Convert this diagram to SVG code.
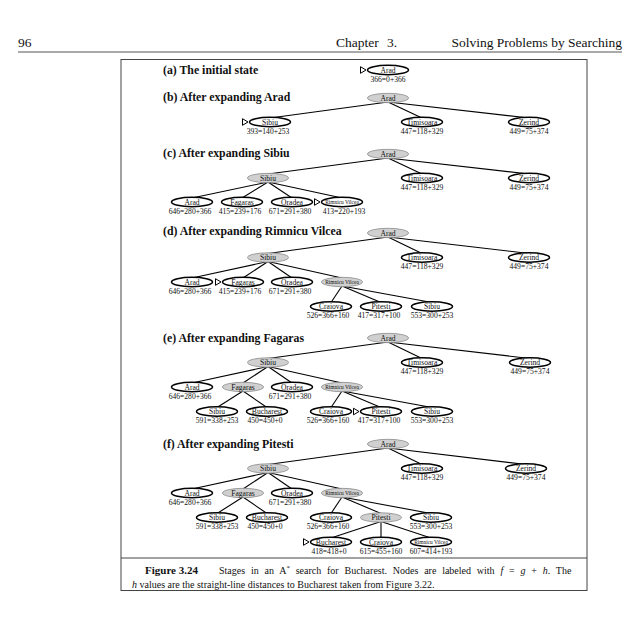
<svg xmlns="http://www.w3.org/2000/svg" xmlns:xlink="http://www.w3.org/1999/xlink" width="640" height="640" viewBox="0 0 640 640">
<style>
.w{fill:#fff;stroke:#000;stroke-width:1.5}
.g{fill:#d0d0d0;stroke:#8a8a8a;stroke-width:0.8}
.nl{font-family:"Liberation Serif",serif;font-size:7.6px;text-anchor:middle;fill:#111}
.rv{font-size:5.4px}
.fl{font-family:"Liberation Serif",serif;font-size:7.6px;text-anchor:middle;fill:#111}
.t{font-family:"Liberation Serif",serif;font-size:11.8px;font-weight:bold;fill:#111}
.e line{stroke:#000;stroke-width:1.1}
.tri{fill:#fff;stroke:#000;stroke-width:1}
.hd{font-family:"Liberation Serif",serif;font-size:13.5px;fill:#111}
.cap{font-family:"Liberation Serif",serif;font-size:10px;fill:#111}
</style>
<defs>
<path id="tri" class="tri" d="M-5.5,-3.3 L0,0 L-5.5,3.3 Z"/>
</defs>
<rect width="640" height="640" fill="#fff"/>
<g id="header">
<text class="hd" x="18" y="47">96</text>
<text class="hd" x="336" y="47">Chapter</text>
<text class="hd" x="387" y="47">3.</text>
<text class="hd" x="622" y="47" text-anchor="end">Solving Problems by Searching</text>
<line x1="18" y1="52" x2="622" y2="52" stroke="#555" stroke-width="1"/>
</g>
<g id="frame" fill="none" stroke="#444" stroke-width="1">
<rect x="121" y="59.5" width="466" height="531"/>
<line x1="121" y1="558" x2="587" y2="558"/>
</g>
<g id="titles">
<text class="t" x="163" y="74">(a) The initial state</text>
<text class="t" x="163" y="101">(b) After expanding Arad</text>
<text class="t" x="163" y="157">(c) After expanding Sibiu</text>
<text class="t" x="163" y="234.5">(d) After expanding Rimnicu Vilcea</text>
<text class="t" x="163" y="341.5">(e) After expanding Fagaras</text>
<text class="t" x="163" y="447.5">(f) After expanding Pitesti</text>
</g>
<g id="connectors" class="e">
<line x1="388" y1="102" x2="270" y2="118"/>
<line x1="388" y1="102" x2="422" y2="118"/>
<line x1="388" y1="102" x2="529" y2="118"/>
<line x1="388" y1="158" x2="268" y2="174"/>
<line x1="388" y1="158" x2="422" y2="174"/>
<line x1="388" y1="158" x2="529" y2="174"/>
<line x1="268" y1="182" x2="192" y2="198"/>
<line x1="268" y1="182" x2="242" y2="198"/>
<line x1="268" y1="182" x2="292" y2="198"/>
<line x1="268" y1="182" x2="342" y2="198"/>
<line x1="388" y1="237" x2="268" y2="253.5"/>
<line x1="388" y1="237" x2="422" y2="253.5"/>
<line x1="388" y1="237" x2="529" y2="253.5"/>
<line x1="268" y1="261.5" x2="192" y2="278"/>
<line x1="268" y1="261.5" x2="243" y2="278"/>
<line x1="268" y1="261.5" x2="292" y2="278"/>
<line x1="268" y1="261.5" x2="342" y2="278"/>
<line x1="342" y1="286" x2="331" y2="302.5"/>
<line x1="342" y1="286" x2="381" y2="302.5"/>
<line x1="342" y1="286" x2="432" y2="302.5"/>
<line x1="388" y1="342" x2="268" y2="358.5"/>
<line x1="388" y1="342" x2="422" y2="358.5"/>
<line x1="388" y1="342" x2="530" y2="358.5"/>
<line x1="268" y1="366.5" x2="192" y2="383"/>
<line x1="268" y1="366.5" x2="243" y2="383"/>
<line x1="268" y1="366.5" x2="292" y2="383"/>
<line x1="268" y1="366.5" x2="342" y2="383"/>
<line x1="243" y1="391" x2="217" y2="407.5"/>
<line x1="243" y1="391" x2="267" y2="407.5"/>
<line x1="342" y1="391" x2="331" y2="407.5"/>
<line x1="342" y1="391" x2="381" y2="407.5"/>
<line x1="342" y1="391" x2="432" y2="407.5"/>
<line x1="388" y1="448" x2="268" y2="464.5"/>
<line x1="388" y1="448" x2="422" y2="464.5"/>
<line x1="388" y1="448" x2="526" y2="464.5"/>
<line x1="268" y1="472.5" x2="192" y2="489"/>
<line x1="268" y1="472.5" x2="243" y2="489"/>
<line x1="268" y1="472.5" x2="292" y2="489"/>
<line x1="268" y1="472.5" x2="342" y2="489"/>
<line x1="243" y1="497" x2="217" y2="513.5"/>
<line x1="243" y1="497" x2="267" y2="513.5"/>
<line x1="342" y1="497" x2="331" y2="513.5"/>
<line x1="342" y1="497" x2="381" y2="513.5"/>
<line x1="342" y1="497" x2="431" y2="513.5"/>
<line x1="381" y1="521.5" x2="331" y2="538"/>
<line x1="381" y1="521.5" x2="381" y2="538"/>
<line x1="381" y1="521.5" x2="431" y2="538"/>
</g>
<!-- (a) -->
<g id="a-arad"><use xlink:href="#tri" x="366" y="70"/><ellipse class="w" cx="388" cy="70" rx="20.5" ry="4.7"/><text class="nl" x="388" y="72.6">Arad</text><text class="fl" x="388" y="81.5">366=0+366</text></g>
<!-- (b) -->
<g id="b-arad"><ellipse class="g" cx="388" cy="98" rx="20.5" ry="4.7"/><text class="nl" x="388" y="100.6">Arad</text></g>
<g id="b-sibiu"><use xlink:href="#tri" x="248" y="122"/><ellipse class="w" cx="270" cy="122" rx="20.5" ry="4.7"/><text class="nl" x="270" y="124.6">Sibiu</text><text class="fl" x="268" y="133.5">393=140+253</text></g>
<g id="b-timisoara"><ellipse class="w" cx="422" cy="122" rx="20.5" ry="4.7"/><text class="nl" x="422" y="124.6">Timisoara</text><text class="fl" x="422" y="133.5">447=118+329</text></g>
<g id="b-zerind"><ellipse class="w" cx="529" cy="122" rx="20.5" ry="4.7"/><text class="nl" x="529" y="124.6">Zerind</text><text class="fl" x="529" y="133.5">449=75+374</text></g>
<!-- (c) -->
<g id="c-arad"><ellipse class="g" cx="388" cy="154" rx="20.5" ry="4.7"/><text class="nl" x="388" y="156.6">Arad</text></g>
<g id="c-sibiu"><ellipse class="g" cx="268" cy="178" rx="20.5" ry="4.7"/><text class="nl" x="268" y="180.6">Sibiu</text></g>
<g id="c-timisoara"><ellipse class="w" cx="422" cy="178" rx="20.5" ry="4.7"/><text class="nl" x="422" y="180.6">Timisoara</text><text class="fl" x="422" y="189.5">447=118+329</text></g>
<g id="c-zerind"><ellipse class="w" cx="529" cy="178" rx="20.5" ry="4.7"/><text class="nl" x="529" y="180.6">Zerind</text><text class="fl" x="529" y="189.5">449=75+374</text></g>
<g id="c-arad2"><ellipse class="w" cx="192" cy="202" rx="20.5" ry="4.7"/><text class="nl" x="192" y="204.6">Arad</text><text class="fl" x="190" y="213.5">646=280+366</text></g>
<g id="c-fagaras"><ellipse class="w" cx="242" cy="202" rx="20.5" ry="4.7"/><text class="nl" x="242" y="204.6">Fagaras</text><text class="fl" x="240" y="213.5">415=239+176</text></g>
<g id="c-oradea"><ellipse class="w" cx="292" cy="202" rx="20.5" ry="4.7"/><text class="nl" x="292" y="204.6">Oradea</text><text class="fl" x="290" y="213.5">671=291+380</text></g>
<g id="c-rimnicu"><use xlink:href="#tri" x="320" y="202"/><ellipse class="w" cx="342" cy="202" rx="20.5" ry="4.7"/><text class="nl rv" x="342" y="203.9">Rimnicu Vilcea</text><text class="fl" x="344" y="213.5">413=220+193</text></g>
<!-- (d) -->
<g id="d-arad"><ellipse class="g" cx="388" cy="233" rx="20.5" ry="4.7"/><text class="nl" x="388" y="235.6">Arad</text></g>
<g id="d-sibiu"><ellipse class="g" cx="268" cy="257.5" rx="20.5" ry="4.7"/><text class="nl" x="268" y="260.1">Sibiu</text></g>
<g id="d-timisoara"><ellipse class="w" cx="422" cy="257.5" rx="20.5" ry="4.7"/><text class="nl" x="422" y="260.1">Timisoara</text><text class="fl" x="422" y="269">447=118+329</text></g>
<g id="d-zerind"><ellipse class="w" cx="529" cy="257.5" rx="20.5" ry="4.7"/><text class="nl" x="529" y="260.1">Zerind</text><text class="fl" x="529" y="269">449=75+374</text></g>
<g id="d-arad2"><ellipse class="w" cx="192" cy="282" rx="20.5" ry="4.7"/><text class="nl" x="192" y="284.6">Arad</text><text class="fl" x="190" y="293.5">646=280+366</text></g>
<g id="d-fagaras"><use xlink:href="#tri" x="221" y="282"/><ellipse class="w" cx="243" cy="282" rx="20.5" ry="4.7"/><text class="nl" x="243" y="284.6">Fagaras</text><text class="fl" x="240" y="293.5">415=239+176</text></g>
<g id="d-oradea"><ellipse class="w" cx="292" cy="282" rx="20.5" ry="4.7"/><text class="nl" x="292" y="284.6">Oradea</text><text class="fl" x="290" y="293.5">671=291+380</text></g>
<g id="d-rimnicu"><ellipse class="g" cx="342" cy="282" rx="20.5" ry="4.7"/><text class="nl rv" x="342" y="283.9">Rimnicu Vilcea</text></g>
<g id="d-craiova"><ellipse class="w" cx="331" cy="306.5" rx="20.5" ry="4.7"/><text class="nl" x="331" y="309.1">Craiova</text><text class="fl" x="328" y="318">526=366+160</text></g>
<g id="d-pitesti"><ellipse class="w" cx="381" cy="306.5" rx="20.5" ry="4.7"/><text class="nl" x="381" y="309.1">Pitesti</text><text class="fl" x="379" y="318">417=317+100</text></g>
<g id="d-sibiu2"><ellipse class="w" cx="432" cy="306.5" rx="20.5" ry="4.7"/><text class="nl" x="432" y="309.1">Sibiu</text><text class="fl" x="432" y="318">553=300+253</text></g>
<!-- (e) -->
<g id="e-arad"><ellipse class="g" cx="388" cy="338" rx="20.5" ry="4.7"/><text class="nl" x="388" y="340.6">Arad</text></g>
<g id="e-sibiu"><ellipse class="g" cx="268" cy="362.5" rx="20.5" ry="4.7"/><text class="nl" x="268" y="365.1">Sibiu</text></g>
<g id="e-timisoara"><ellipse class="w" cx="422" cy="362.5" rx="20.5" ry="4.7"/><text class="nl" x="422" y="365.1">Timisoara</text><text class="fl" x="422" y="374">447=118+329</text></g>
<g id="e-zerind"><ellipse class="w" cx="530" cy="362.5" rx="20.5" ry="4.7"/><text class="nl" x="530" y="365.1">Zerind</text><text class="fl" x="530" y="374">449=75+374</text></g>
<g id="e-arad2"><ellipse class="w" cx="192" cy="387" rx="20.5" ry="4.7"/><text class="nl" x="192" y="389.6">Arad</text><text class="fl" x="190" y="398.5">646=280+366</text></g>
<g id="e-fagaras"><ellipse class="g" cx="243" cy="387" rx="20.5" ry="4.7"/><text class="nl" x="243" y="389.6">Fagaras</text></g>
<g id="e-oradea"><ellipse class="w" cx="292" cy="387" rx="20.5" ry="4.7"/><text class="nl" x="292" y="389.6">Oradea</text><text class="fl" x="290" y="398.5">671=291+380</text></g>
<g id="e-rimnicu"><ellipse class="g" cx="342" cy="387" rx="20.5" ry="4.7"/><text class="nl rv" x="342" y="388.9">Rimnicu Vilcea</text></g>
<g id="e-sibiu3"><ellipse class="w" cx="217" cy="411.5" rx="20.5" ry="4.7"/><text class="nl" x="217" y="414.1">Sibiu</text><text class="fl" x="217" y="423">591=338+253</text></g>
<g id="e-bucharest"><ellipse class="w" cx="267" cy="411.5" rx="20.5" ry="4.7"/><text class="nl" x="267" y="414.1">Bucharest</text><text class="fl" x="265" y="423">450=450+0</text></g>
<g id="e-craiova"><ellipse class="w" cx="331" cy="411.5" rx="20.5" ry="4.7"/><text class="nl" x="331" y="414.1">Craiova</text><text class="fl" x="328" y="423">526=366+160</text></g>
<g id="e-pitesti"><use xlink:href="#tri" x="359" y="411.5"/><ellipse class="w" cx="381" cy="411.5" rx="20.5" ry="4.7"/><text class="nl" x="381" y="414.1">Pitesti</text><text class="fl" x="379" y="423">417=317+100</text></g>
<g id="e-sibiu2"><ellipse class="w" cx="432" cy="411.5" rx="20.5" ry="4.7"/><text class="nl" x="432" y="414.1">Sibiu</text><text class="fl" x="432" y="423">553=300+253</text></g>
<!-- (f) -->
<g id="f-arad"><ellipse class="g" cx="388" cy="444" rx="20.5" ry="4.7"/><text class="nl" x="388" y="446.6">Arad</text></g>
<g id="f-sibiu"><ellipse class="g" cx="268" cy="468.5" rx="20.5" ry="4.7"/><text class="nl" x="268" y="471.1">Sibiu</text></g>
<g id="f-timisoara"><ellipse class="w" cx="422" cy="468.5" rx="20.5" ry="4.7"/><text class="nl" x="422" y="471.1">Timisoara</text><text class="fl" x="422" y="480">447=118+329</text></g>
<g id="f-zerind"><ellipse class="w" cx="526" cy="468.5" rx="20.5" ry="4.7"/><text class="nl" x="526" y="471.1">Zerind</text><text class="fl" x="526" y="480">449=75+374</text></g>
<g id="f-arad2"><ellipse class="w" cx="192" cy="493" rx="20.5" ry="4.7"/><text class="nl" x="192" y="495.6">Arad</text><text class="fl" x="190" y="504.5">646=280+366</text></g>
<g id="f-fagaras"><ellipse class="g" cx="243" cy="493" rx="20.5" ry="4.7"/><text class="nl" x="243" y="495.6">Fagaras</text></g>
<g id="f-oradea"><ellipse class="w" cx="292" cy="493" rx="20.5" ry="4.7"/><text class="nl" x="292" y="495.6">Oradea</text><text class="fl" x="290" y="504.5">671=291+380</text></g>
<g id="f-rimnicu"><ellipse class="g" cx="342" cy="493" rx="20.5" ry="4.7"/><text class="nl rv" x="342" y="494.9">Rimnicu Vilcea</text></g>
<g id="f-sibiu3"><ellipse class="w" cx="217" cy="517.5" rx="20.5" ry="4.7"/><text class="nl" x="217" y="520.1">Sibiu</text><text class="fl" x="217" y="529">591=338+253</text></g>
<g id="f-bucharest"><ellipse class="w" cx="267" cy="517.5" rx="20.5" ry="4.7"/><text class="nl" x="267" y="520.1">Bucharest</text><text class="fl" x="265" y="529">450=450+0</text></g>
<g id="f-craiova"><ellipse class="w" cx="331" cy="517.5" rx="20.5" ry="4.7"/><text class="nl" x="331" y="520.1">Craiova</text><text class="fl" x="328" y="529">526=366+160</text></g>
<g id="f-pitesti"><ellipse class="g" cx="381" cy="517.5" rx="20.5" ry="4.7"/><text class="nl" x="381" y="520.1">Pitesti</text></g>
<g id="f-sibiu2"><ellipse class="w" cx="431" cy="517.5" rx="20.5" ry="4.7"/><text class="nl" x="431" y="520.1">Sibiu</text><text class="fl" x="431" y="529">553=300+253</text></g>
<g id="f-bucharest2"><use xlink:href="#tri" x="309" y="542"/><ellipse class="w" cx="331" cy="542" rx="20.5" ry="4.7"/><text class="nl" x="331" y="544.6">Bucharest</text><text class="fl" x="329" y="553.5">418=418+0</text></g>
<g id="f-craiova2"><ellipse class="w" cx="381" cy="542" rx="20.5" ry="4.7"/><text class="nl" x="381" y="544.6">Craiova</text><text class="fl" x="381" y="553.5">615=455+160</text></g>
<g id="f-rimnicu2"><ellipse class="w" cx="431" cy="542" rx="20.5" ry="4.7"/><text class="nl rv" x="431" y="543.9">Rimnicu Vilcea</text><text class="fl" x="431" y="553.5">607=414+193</text></g>
<g id="caption">
<text class="cap" x="145" y="574"><tspan font-weight="bold" font-size="11">Figure 3.24</tspan></text>
<text class="cap" x="219" y="574" word-spacing="3.3">Stages in an A<tspan font-size="7" dy="-4">*</tspan><tspan dy="4"> search for Bucharest. Nodes are labeled with </tspan><tspan font-style="italic">f</tspan> = <tspan font-style="italic">g</tspan> + <tspan font-style="italic">h</tspan>. The</text>
<text class="cap" x="132" y="587.5"><tspan font-style="italic">h</tspan> values are the straight-line distances to Bucharest taken from Figure 3.22.</text>
</g>
</svg>
